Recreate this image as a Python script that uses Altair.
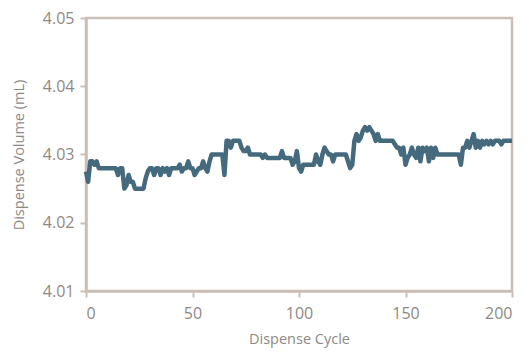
import altair as alt
import pandas as pd

cycles = list(range(0, 201))
vol_thousandths = [
    27.5, 26, 29, 29, 28.5, 29, 28, 28, 28, 28,
    28, 28, 28, 28, 28, 27, 28, 28, 25, 25.5,
    27, 26, 26, 25, 25, 25, 25, 25, 26.5, 27.5,
    28, 28, 27, 28, 28, 27, 28, 27.5, 28, 27,
    28, 28, 28, 28, 28.5, 27.5, 28, 28, 29, 28,
    28, 27, 27.5, 28, 28, 29, 28, 27.5, 29, 30,
    30, 30, 30, 30, 30, 27, 32, 32, 31, 32,
    32, 32, 32, 31, 30.5, 30.5, 31, 30, 30, 30,
    30, 30, 30, 29.5, 30, 29.5, 29.5, 29.5, 29.5, 29.5,
    29.5, 29.5, 30.5, 29.5, 29.5, 29.5, 29.5, 28.5, 29, 30.5,
    28, 27.5, 28.5, 28.5, 28.5, 28.5, 28.5, 28.5, 30, 29,
    28.5, 30, 31, 30.5, 30, 30, 29, 30, 30, 30,
    30, 30, 30, 29, 28, 28.5, 32, 33, 32, 32.5,
    33.5, 34, 33.5, 34, 33.5, 33, 32, 33, 32, 32,
    32, 32, 32, 32, 32, 31.5, 31, 31, 30, 31,
    28.5, 29.5, 30, 31, 30, 29.5, 31, 29, 31, 30.5,
    31, 29, 31, 29.5, 31, 30, 30, 30, 30, 30,
    30, 30, 30, 30, 30, 30, 28.5, 31, 31, 32,
    31, 32, 33, 31, 32, 31, 32, 31.5, 32, 31.5,
    32, 31.5, 32, 32, 32, 31.5, 32, 32, 32, 32,
    32,
]
volumes = [4.0 + v / 1000.0 for v in vol_thousandths]

df = pd.DataFrame({"cycle": cycles, "volume": volumes})

axis_col = "#c9bfb6"
label_col = "#8f8984"
font = "Open Sans"

chart = alt.Chart(df).mark_line(
    color="#45697d", strokeWidth=4.5, strokeJoin="round"
).encode(
    x=alt.X("cycle:Q", scale=alt.Scale(domain=[0, 200], nice=False),
            axis=alt.Axis(title="Dispense Cycle", values=[0, 50, 100, 150, 200],
                          grid=False, tickSize=6, labelPadding=8,
                          titlePadding=11)),
    y=alt.Y("volume:Q", scale=alt.Scale(domain=[4.01, 4.05], nice=False, zero=False),
            axis=alt.Axis(title="Dispense Volume (mL)", values=[4.01, 4.02, 4.03, 4.04, 4.05],
                          format=".2f", grid=False, tickSize=6, labelPadding=6,
                          titlePadding=16)),
).properties(
    width=426, height=273,
    autosize=alt.AutoSizeParams(type="none"),
    padding={"left": 78, "top": 10, "right": 12, "bottom": 60},
).configure_view(
    stroke=axis_col, strokeWidth=2.5
).configure_axis(
    domainColor=axis_col, domainWidth=2.5, tickColor=axis_col, tickWidth=2,
    labelColor=label_col, labelFont=font, labelFontSize=16,
    titleColor=label_col, titleFont=font, titleFontSize=14.5, titleFontWeight="normal",
)

chart.save("out.html", embed_options={"renderer": "svg", "actions": False})
